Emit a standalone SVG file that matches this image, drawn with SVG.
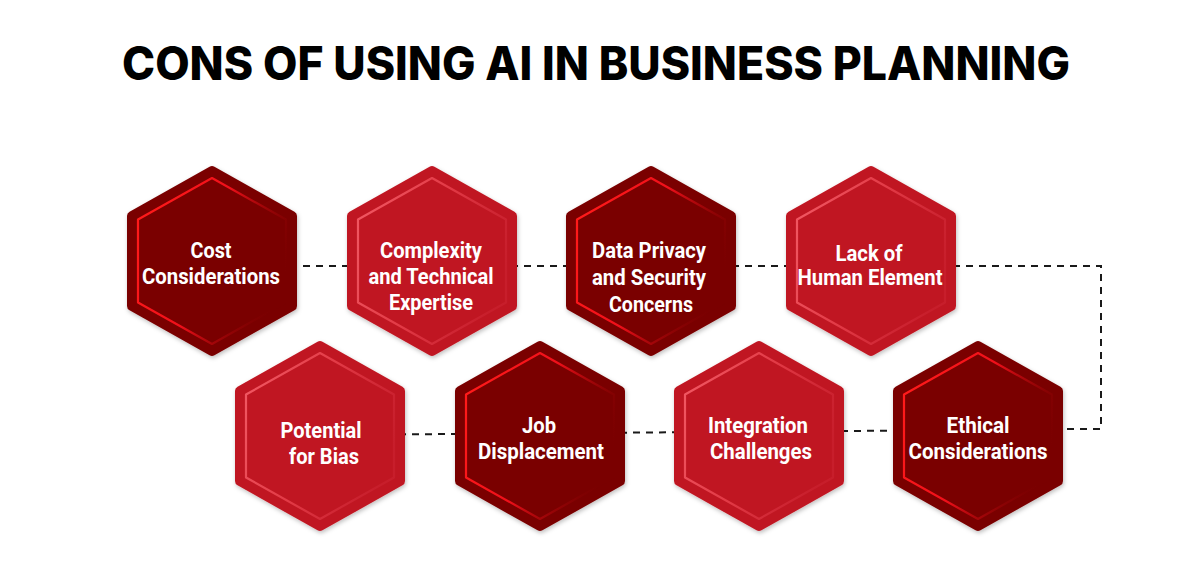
<svg xmlns="http://www.w3.org/2000/svg" width="1200" height="584" viewBox="0 0 1200 584">
<style>
.title{font-family:Inter,"Liberation Sans",sans-serif;font-weight:800;font-size:46px;fill:#000}
.lbl{font-family:Roboto,"Liberation Sans",sans-serif;font-weight:700;font-size:22px;fill:#fff;text-anchor:middle}
.dark .outer{fill:#7a0000;stroke:#7a0000;stroke-width:10;stroke-linejoin:round}
.bright .outer{fill:#c01622;stroke:#c01622;stroke-width:10;stroke-linejoin:round}
.dark .inner{fill:none;stroke:url(#gDark);stroke-width:2.2;stroke-linejoin:round}
.bright .inner{fill:none;stroke:url(#gBright);stroke-width:2.2;stroke-linejoin:round}
.conn{fill:none;stroke:#1a1a1a;stroke-width:2;stroke-dasharray:7 6}
</style>
<defs>
<linearGradient id="gDark" x1="0" y1="0.3" x2="1" y2="0.7">
<stop offset="0" stop-color="#ff1a1a"/>
<stop offset="0.45" stop-color="#f0101a"/>
<stop offset="0.95" stop-color="#7a0000" stop-opacity="0.2"/>
</linearGradient>
<linearGradient id="gBright" x1="0" y1="0.3" x2="1" y2="0.7">
<stop offset="0" stop-color="#f05560"/>
<stop offset="0.45" stop-color="#e23a46"/>
<stop offset="0.95" stop-color="#d83040" stop-opacity="0.3"/>
</linearGradient>
<filter id="sh" x="-20%" y="-20%" width="140%" height="140%">
<feDropShadow dx="1" dy="2" stdDeviation="2" flood-color="#000" flood-opacity="0.25"/>
</filter>
<path id="hexO" d="M0,-90 L80,-45 L80,45 L0,90 L-80,45 L-80,-45 Z"/>
<path id="hexI" d="M0,-83 L74,-41.5 L74,41.5 L0,83 L-74,41.5 L-74,-41.5 Z"/>
</defs>
<rect width="1200" height="584" fill="#fff"/>
<text class="title" x="596" y="80" text-anchor="middle" textLength="948" lengthAdjust="spacingAndGlyphs">CONS OF USING AI IN BUSINESS PLANNING</text>
<g id="connectors">
<path class="conn" d="M212,266 H1101 V429 H978"/>
<path class="conn" d="M978,430 L320,435"/>
</g>
<g id="n1" class="dark" transform="translate(212,261)">
<g filter="url(#sh)"><use href="#hexO" class="outer"/></g><use href="#hexI" class="inner"/>
</g>
<text class="lbl" x="211" y="258" textLength="41" lengthAdjust="spacingAndGlyphs">Cost</text>
<text class="lbl" x="211" y="284" textLength="138" lengthAdjust="spacingAndGlyphs">Considerations</text>
<g id="n2" class="bright" transform="translate(432,261)">
<g filter="url(#sh)"><use href="#hexO" class="outer"/></g><use href="#hexI" class="inner"/>
</g>
<text class="lbl" x="431" y="258" textLength="102" lengthAdjust="spacingAndGlyphs">Complexity</text>
<text class="lbl" x="431" y="284" textLength="125" lengthAdjust="spacingAndGlyphs">and Technical</text>
<text class="lbl" x="431" y="310" textLength="84" lengthAdjust="spacingAndGlyphs">Expertise</text>
<g id="n3" class="dark" transform="translate(651,261)">
<g filter="url(#sh)"><use href="#hexO" class="outer"/></g><use href="#hexI" class="inner"/>
</g>
<text class="lbl" x="649" y="258" textLength="114" lengthAdjust="spacingAndGlyphs">Data Privacy</text>
<text class="lbl" x="649" y="285" textLength="114" lengthAdjust="spacingAndGlyphs">and Security</text>
<text class="lbl" x="651" y="312" textLength="84" lengthAdjust="spacingAndGlyphs">Concerns</text>
<g id="n4" class="bright" transform="translate(871,261)">
<g filter="url(#sh)"><use href="#hexO" class="outer"/></g><use href="#hexI" class="inner"/>
</g>
<text class="lbl" x="869" y="261" textLength="67" lengthAdjust="spacingAndGlyphs">Lack of</text>
<text class="lbl" x="870" y="285" textLength="145" lengthAdjust="spacingAndGlyphs">Human Element</text>
<g id="n5" class="bright" transform="translate(320,436)">
<g filter="url(#sh)"><use href="#hexO" class="outer"/></g><use href="#hexI" class="inner"/>
</g>
<text class="lbl" x="321" y="438" textLength="81" lengthAdjust="spacingAndGlyphs">Potential</text>
<text class="lbl" x="324" y="464" textLength="70" lengthAdjust="spacingAndGlyphs">for Bias</text>
<g id="n6" class="dark" transform="translate(540,436)">
<g filter="url(#sh)"><use href="#hexO" class="outer"/></g><use href="#hexI" class="inner"/>
</g>
<text class="lbl" x="539" y="433" textLength="34" lengthAdjust="spacingAndGlyphs">Job</text>
<text class="lbl" x="541" y="459" textLength="126" lengthAdjust="spacingAndGlyphs">Displacement</text>
<g id="n7" class="bright" transform="translate(759,436)">
<g filter="url(#sh)"><use href="#hexO" class="outer"/></g><use href="#hexI" class="inner"/>
</g>
<text class="lbl" x="758" y="433" textLength="100" lengthAdjust="spacingAndGlyphs">Integration</text>
<text class="lbl" x="761" y="459" textLength="102" lengthAdjust="spacingAndGlyphs">Challenges</text>
<g id="n8" class="dark" transform="translate(978,436)">
<g filter="url(#sh)"><use href="#hexO" class="outer"/></g><use href="#hexI" class="inner"/>
</g>
<text class="lbl" x="978" y="433" textLength="63" lengthAdjust="spacingAndGlyphs">Ethical</text>
<text class="lbl" x="978" y="459" textLength="139" lengthAdjust="spacingAndGlyphs">Considerations</text>
</svg>
